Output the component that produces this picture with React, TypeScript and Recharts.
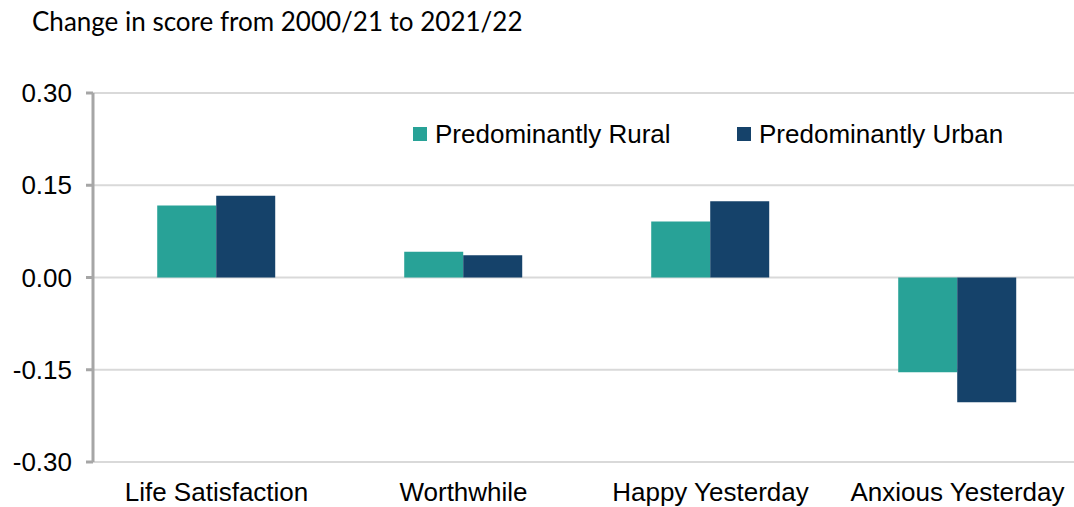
import React from 'react';
import { BarChart, Bar, XAxis, YAxis, CartesianGrid } from 'recharts';

// Change in wellbeing score by area type
const categories = ['Life Satisfaction', 'Worthwhile', 'Happy Yesterday', 'Anxious Yesterday'];
const ruralValues = [0.117, 0.042, 0.091, -0.154];
const urbanValues = [0.133, 0.036, 0.124, -0.203];
const yTicks = [-0.3, -0.15, 0, 0.15, 0.3];
const seriesNames = ['Predominantly Rural', 'Predominantly Urban'];

const RURAL = '#28a297';
const URBAN = '#15426a';
const AXIS_FONT = '"Liberation Sans", Arial, sans-serif';

const chartData = categories.map((name, i) => ({
  name,
  rural: ruralValues[i],
  urban: urbanValues[i],
}));

const legendItems = [
  { label: seriesNames[0], color: RURAL },
  { label: seriesNames[1], color: URBAN },
];

export default function App() {
  return (
    <div style={{ position: 'absolute', left: 0, top: 0, width: 1074, height: 507, overflow: 'hidden', background: '#fff' }}>
      <div style={{ position: 'absolute', left: 32, top: 8, fontFamily: 'Lato, "Open Sans", sans-serif', fontSize: 26, lineHeight: 1, color: '#000', whiteSpace: 'nowrap' }}>
        Change in score from 2000/21 to 2021/22
      </div>
      <BarChart
        width={1100}
        height={507}
        data={chartData}
        margin={{ top: 93, right: 19, left: 0, bottom: 15 }}
        barCategoryGap="26%"
        barGap={0}
      >
        <CartesianGrid vertical={false} stroke="#d9d9d9" strokeWidth={2} />
        <XAxis
          dataKey="name"
          axisLine={false}
          tickLine={false}
          tickSize={0}
          tickMargin={21}
          height={30}
          interval={0}
          tick={{ fill: '#000', fontSize: 26, fontFamily: AXIS_FONT }}
        />
        <YAxis
          width={93}
          domain={[-0.3, 0.3]}
          ticks={yTicks}
          tickFormatter={(v: number) => v.toFixed(2)}
          axisLine={{ stroke: '#a6a6a6', strokeWidth: 3 }}
          tickLine={{ stroke: '#a6a6a6', strokeWidth: 3 }}
          tickSize={7}
          tickMargin={14}
          tick={{ fill: '#000', fontSize: 26, fontFamily: AXIS_FONT }}
        />
        <Bar dataKey="rural" name={seriesNames[0]} fill={RURAL} isAnimationActive={false} />
        <Bar dataKey="urban" name={seriesNames[1]} fill={URBAN} isAnimationActive={false} />
      </BarChart>
      {/* legend sits inside the plot, top right */}
      <div style={{ position: 'absolute', left: 413, top: 119, display: 'flex', fontFamily: AXIS_FONT, fontSize: 26, lineHeight: '30px', color: '#000' }}>
        {legendItems.map((item) => (
          <div key={item.label} style={{ display: 'flex', alignItems: 'center', width: 324, flexShrink: 0 }}>
            <span style={{ width: 14, height: 14, background: item.color, marginRight: 8, display: 'inline-block', flexShrink: 0 }} />
            <span style={{ whiteSpace: 'nowrap' }}>{item.label}</span>
          </div>
        ))}
      </div>
    </div>
  );
}
